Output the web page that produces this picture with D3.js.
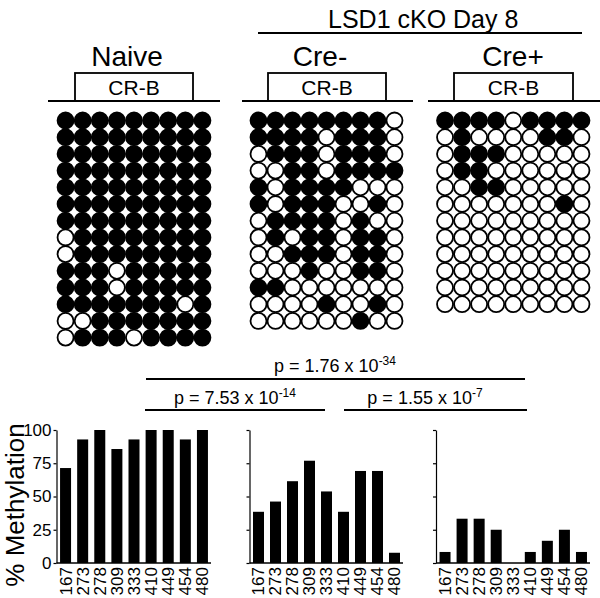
<!DOCTYPE html>
<html>
<head>
<meta charset="utf-8">
<script src="https://cdn.jsdelivr.net/npm/d3@7"></script>
<style>
  html, body { margin: 0; padding: 0; background: #fff; }
  svg { display: block; font-family: "Liberation Sans", Arial, sans-serif; }
</style>
</head>
<body>
<svg id="chart" width="600" height="598"></svg>
<script>
// ---------- DATA ----------
const cpgSites = ["167", "273", "278", "309", "333", "410", "449", "454", "480"];
const groupNames = ["Naive", "Cre-", "Cre+"];
const regionLabel = "CR-B";
const superTitle = "LSD1 cKO Day 8";

// 1 = methylated (filled), 0 = unmethylated (open); one row per clone
const naiveClones = [
  [1,1,1,1,1,1,1,1,1],
  [1,1,1,1,1,1,1,1,1],
  [1,1,1,1,1,1,1,1,1],
  [1,1,1,1,1,1,1,1,1],
  [1,1,1,1,1,1,1,1,1],
  [1,1,1,1,1,1,1,1,1],
  [1,1,1,1,1,1,1,1,1],
  [0,1,1,1,1,1,1,1,1],
  [0,1,1,1,1,1,1,1,1],
  [1,1,1,0,1,1,1,1,1],
  [1,1,1,0,1,1,1,1,1],
  [1,1,1,1,1,1,1,0,1],
  [0,0,1,1,1,1,1,1,1],
  [0,1,1,1,0,1,1,1,1]
];
const creMinusClones = [
  [1,1,1,1,1,1,1,1,0],
  [1,1,1,1,0,1,1,1,0],
  [0,1,1,1,0,1,1,1,0],
  [0,0,1,1,0,1,1,1,1],
  [1,0,1,1,1,1,0,0,0],
  [1,0,1,1,1,0,0,1,0],
  [0,1,1,1,1,0,1,0,0],
  [0,1,0,1,1,0,1,1,0],
  [0,0,1,1,1,0,1,1,0],
  [0,0,0,1,0,0,1,1,0],
  [1,1,0,0,0,0,0,0,0],
  [0,0,0,0,1,0,0,1,0],
  [0,0,0,0,0,0,1,0,0]
];
const crePlusClones = [
  [1,1,1,1,0,1,1,1,1],
  [0,1,0,0,0,0,1,1,0],
  [0,1,1,1,0,0,0,0,0],
  [0,1,1,0,0,0,0,0,0],
  [0,0,1,1,0,0,0,0,0],
  [0,0,0,0,0,0,0,1,0],
  [0,0,0,0,0,0,0,0,0],
  [0,0,0,0,0,0,0,0,0],
  [0,0,0,0,0,0,0,0,0],
  [0,0,0,0,0,0,0,0,0],
  [0,0,0,0,0,0,0,0,0],
  [0,0,0,0,0,0,0,0,0]
];

// % methylation per CpG site
const naivePct     = [71.4, 92.9, 100, 85.7, 92.9, 100, 100, 92.9, 100];
const creMinusPct  = [38.5, 46.2, 61.5, 76.9, 53.8, 38.5, 69.2, 69.2, 7.7];
const crePlusPct   = [8.3, 33.3, 33.3, 25.0, 0.0, 8.3, 16.7, 25.0, 8.3];

const yTicks = [0, 25, 50, 75, 100];
const yLabel = "% Methylation";

// p-value comparisons: [fromGroup, toGroup, mantissa, exponent]
const comparisons = [
  ["Naive", "Cre+", "1.76", "-34"],
  ["Naive", "Cre-", "7.53", "-14"],
  ["Cre-",  "Cre+", "1.55", "-7"]
];

// ---------- LAYOUT ----------
const svg = d3.select("#chart");
const ink = "#000";

const panels = [
  { name: "Naive", clones: naiveClones,    pct: naivePct,    x0: 57,  x1: 211, base: [48, 220],  box: [75, 193],  titleX: 127, showY: true },
  { name: "Cre-",  clones: creMinusClones, pct: creMinusPct, x0: 250, x1: 403, base: [242, 413], box: [268, 386], titleX: 320, showY: false },
  { name: "Cre+",  clones: crePlusClones,  pct: crePlusPct,  x0: 436.5, x1: 590, base: [428, 600], box: [454, 573], titleX: 513, showY: false }
];

const rowStep = 16.7;
const gridTop = 120.5;
const r = 8.0;

const y = d3.scaleLinear().domain([0, 100]).range([563, 430]);

// super title
svg.append("text").attr("x", 328).attr("y", 28).attr("text-anchor", "start")
  .attr("font-size", 25).attr("fill", ink).text(superTitle);
svg.append("line").attr("x1", 258).attr("x2", 582).attr("y1", 33).attr("y2", 33)
  .attr("stroke", ink).attr("stroke-width", 2);

panels.forEach(p => {
  const x = d3.scalePoint().domain(cpgSites).range([p.x0, p.x1]).padding(0.5);
  const rowY = d3.scaleLinear().domain([0, 1]).range([gridTop, gridTop + rowStep]);
  const g = svg.append("g");

  // title
  g.append("text").attr("x", p.titleX).attr("y", 66).attr("text-anchor", "middle")
    .attr("font-size", 28).attr("fill", ink).text(p.name);
  // region box + baseline
  g.append("rect").attr("x", p.box[0]).attr("y", 73).attr("width", p.box[1] - p.box[0]).attr("height", 28)
    .attr("fill", "none").attr("stroke", ink).attr("stroke-width", 1.8);
  g.append("text").attr("x", (p.box[0] + p.box[1]) / 2).attr("y", 95).attr("text-anchor", "middle")
    .attr("font-size", 21).attr("fill", ink).text(regionLabel);
  g.append("line").attr("x1", p.base[0]).attr("x2", p.base[1]).attr("y1", 101).attr("y2", 101)
    .attr("stroke", ink).attr("stroke-width", 2);

  // lollipop grid
  const cells = [];
  p.clones.forEach((row, i) => row.forEach((v, j) => cells.push({ i, site: cpgSites[j], v })));
  g.selectAll("circle.cpg").data(cells).join("circle")
    .attr("class", "cpg")
    .attr("cx", d => x(d.site))
    .attr("cy", d => rowY(d.i))
    .attr("r", r)
    .attr("fill", d => d.v ? ink : "#fff")
    .attr("stroke", ink).attr("stroke-width", 1.8);

  // bar chart
  const bw = 11;
  g.selectAll("rect.bar").data(p.pct.map((v, j) => ({ site: cpgSites[j], v }))).join("rect")
    .attr("class", "bar")
    .attr("x", d => x(d.site) - bw / 2)
    .attr("y", d => y(d.v))
    .attr("width", bw)
    .attr("height", d => y(0) - y(d.v))
    .attr("fill", ink);

  const ax = g.append("g").attr("transform", `translate(${p.x0 - 0.5},0)`)
    .call(d3.axisLeft(y).tickValues(yTicks).tickSize(3).tickSizeOuter(0)
      .tickFormat(p.showY ? d3.format("d") : ""));
  ax.select(".domain").attr("stroke", ink).attr("stroke-width", 1.2);
  ax.selectAll(".tick line").attr("stroke", ink).attr("stroke-width", 1.2);
  ax.selectAll(".tick text").attr("font-size", 17).attr("fill", ink)
    .attr("font-family", "Liberation Sans, Arial, sans-serif").attr("x", -5);

  g.append("line").attr("x1", p.x0 - 0.5).attr("x2", p.x1).attr("y1", y(0)).attr("y2", y(0))
    .attr("stroke", ink).attr("stroke-width", 1.5);

  g.selectAll("text.site").data(cpgSites).join("text")
    .attr("class", "site")
    .attr("transform", d => `translate(${x(d)},567) rotate(-90)`)
    .attr("text-anchor", "end").attr("dy", "0.35em")
    .attr("font-size", 17).attr("fill", ink).text(d => d);
});

// y label
svg.append("text").attr("transform", "translate(15,505) rotate(-90)")
  .attr("text-anchor", "middle").attr("dy", "0.35em")
  .attr("font-size", 26).attr("fill", ink).text(yLabel);

// p-value brackets
const bracketSpec = [
  { x1: 146, x2: 525, ly: 379, tx: 335, ty: 372 },
  { x1: 145, x2: 325, ly: 410, tx: 235, ty: 404 },
  { x1: 344, x2: 527, ly: 410, tx: 425, ty: 404 }
];
comparisons.forEach((c, k) => {
  const b = bracketSpec[k];
  svg.append("line").attr("x1", b.x1).attr("x2", b.x2).attr("y1", b.ly).attr("y2", b.ly)
    .attr("stroke", ink).attr("stroke-width", 2);
  const t = svg.append("text").attr("x", b.tx).attr("y", b.ty).attr("text-anchor", "middle")
    .attr("font-size", 18).attr("fill", ink);
  t.append("tspan").text(`p = ${c[2]} x 10`);
  t.append("tspan").attr("dy", -7).attr("font-size", 12).text(c[3]);
});
</script>
</body>
</html>
